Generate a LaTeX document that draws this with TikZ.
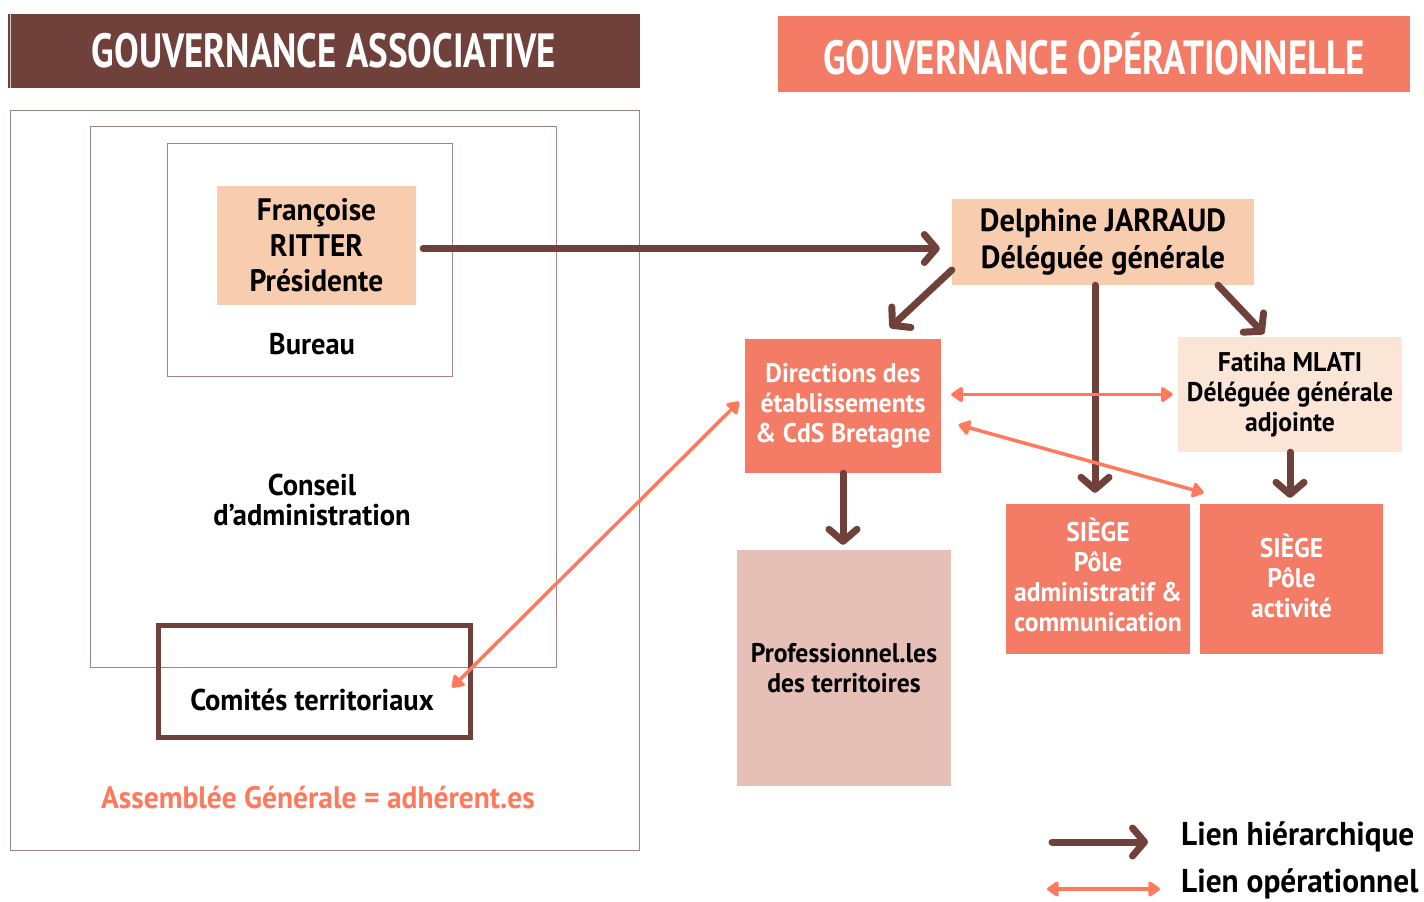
\documentclass[tikz,border=0pt]{standalone}
\usepackage{fontspec}
\setmainfont{PT Sans}[FakeStretch=0.95]
\newfontfamily\headfont{PT Sans}[FakeStretch=0.77]
\usetikzlibrary{arrows.meta}
\definecolor{brun}{RGB}{112,65,58}
\definecolor{saumon}{RGB}{244,123,101}
\definecolor{peche}{RGB}{248,204,174}
\definecolor{pechepale}{RGB}{251,229,214}
\definecolor{rosepale}{RGB}{230,192,183}
\definecolor{corail}{RGB}{255,122,92}
\definecolor{trait}{RGB}{165,132,125}
\begin{document}
\begin{tikzpicture}[x=1pt, y=-1pt,
    every node/.style={inner sep=0pt, align=center, font=\bfseries\fontsize{30}{35.5}\selectfont},
    entete/.style={text=white, minimum width=632, font=\headfont\bfseries\fontsize{48}{50}\selectfont},
    cadre/.style={draw=trait, line width=1pt},
    boite/.style={font=\bfseries\fontsize{27}{30}\selectfont},
    hier/.style={draw=brun, line width=7pt, line cap=round, -{Straight Barb[length=12pt, width=28pt, round]}},
    oper/.style={draw=corail, line width=3.5pt, {Triangle[length=13pt, width=17pt, round]}-{Triangle[length=13pt, width=17pt, round]}}]
\useasboundingbox (0,0) rectangle (1424,902);

\node [entete, fill=brun, minimum height=74] (headA) at (324,51) {GOUVERNANCE ASSOCIATIVE};
\draw [trait!40, line width=1pt] ([xshift=3pt]headA.north west) -- ([xshift=3pt]headA.south west);
\node [entete, fill=saumon, minimum height=76] (headB) at (1094,54) {GOUVERNANCE OPÉRATIONNELLE};

\node [cadre, minimum width=629, minimum height=740] (ag) at (324.5,480) {};
\node [cadre, minimum width=466, minimum height=541] (ca) at (323,396.5) {};
\node [cadre, minimum width=285, minimum height=233] (bur) at (309.5,259.5) {};
\node [fill=peche, minimum width=199, minimum height=119, font=\bfseries\fontsize{31}{35.5}\selectfont] (francoise) at (316.5,245.5) {Françoise\\RITTER\\Présidente};
\node (lbureau) at (312,344) {Bureau};
\node [font=\bfseries\fontsize{30}{30}\selectfont] (lca) at (312,500) {Conseil\\d’administration};
\node [draw=brun, line width=5pt, minimum width=312, minimum height=112] (comites) at (314.5,681.5) {};
\node (lcomites) at (312,700) {Comités territoriaux};
\node [text=corail, font=\bfseries\fontsize{31}{35}\selectfont] (lag) at (318,798) {Assemblée Générale = adhérent.es};

\node [fill=peche, minimum width=302, minimum height=86, font=\bfseries\fontsize{32}{37}\selectfont] (delphine) at (1103,242) {Delphine JARRAUD\\Déléguée générale};
\node [boite, fill=saumon, text=white, minimum width=196, minimum height=134] (directions) at (843,406) {Directions des\\établissements\\\& CdS Bretagne};
\node [boite, fill=pechepale, minimum width=224, minimum height=115] (fatiha) at (1290,394.5) {Fatiha MLATI\\Déléguée générale\\adjointe};
\node [boite, fill=saumon, text=white, minimum width=184, minimum height=150, text depth=8pt] (siegeadm) at (1098,579) {SIÈGE\\Pôle\\administratif \&\\communication};
\node [boite, fill=saumon, text=white, minimum width=183, minimum height=150, text depth=6pt] (siegeact) at (1291.5,579) {SIÈGE\\Pôle\\activité};
\node [boite, fill=rosepale, minimum width=214, minimum height=236] (pros) at (844,668) {Professionnel.les\\des territoires};

\draw [hier] ([xshift=7pt,yshift=-3pt]francoise.east) -- ([xshift=-12pt,yshift=-3pt]francoise.east -| delphine.west);
\draw [hier] ([yshift=-28pt]delphine.west) -- ([xshift=47pt,yshift=11pt]directions.north);
\draw [hier] ([xshift=-3pt]siegeadm.north |- delphine.south) -- ([xshift=-3pt,yshift=11pt]siegeadm.north);
\draw [hier] ([xshift=115pt]delphine.south) -- ([xshift=-26pt,yshift=3pt]fatiha.north);
\draw [hier] (fatiha.south) -- ([yshift=6pt]fatiha.south |- siegeact.north);
\draw [hier] (directions.south) -- ([yshift=5pt]directions.south |- pros.north);

\draw [oper, shorten <=10pt, shorten >=5pt] (fatiha.west -| directions.east) -- (fatiha.west);
\draw [oper, shorten <=18pt] ([yshift=-14pt]directions.east) -- ([xshift=4pt,yshift=11pt]siegeact.north west);
\draw [oper, shorten >=8pt] ([xshift=-21pt,yshift=-6pt]comites.east) -- ([yshift=10pt]directions.west);

\coordinate (h1) at (1052,842);
\coordinate (h2) at (1148,842);
\coordinate (o1) at (1047,889);
\coordinate (o2) at (1160,889);
\draw [hier] (h1) -- (h2);
\draw [oper] (o1) -- (o2);
\node [anchor=west, font=\bfseries\fontsize{33}{38}\selectfont] (lhier) at (1181,837) {Lien hiérarchique};
\node [anchor=west, font=\bfseries\fontsize{33}{38}\selectfont] (loper) at (1181,884) {Lien opérationnel};
\end{tikzpicture}
\end{document}
